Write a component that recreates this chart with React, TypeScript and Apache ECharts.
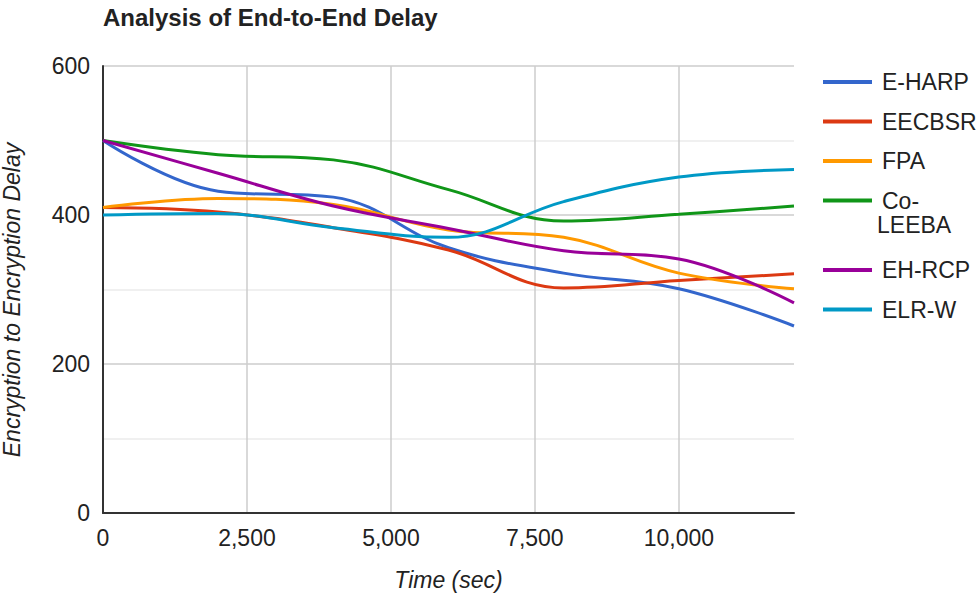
import React, { useEffect, useRef } from "react";
import * as echarts from "echarts";

const xValues = [0, 2000, 4000, 6000, 8000, 10000, 12000];
const seriesNames = ["E-HARP", "EECBSR", "FPA", "Co-LEEBA", "EH-RCP", "ELR-W"];
const eHarp = [500, 432, 424, 356, 322, 301, 251];
const eecbsr = [410, 404, 383, 353, 302, 312, 321];
const fpa = [410, 422, 414, 380, 370, 322, 301];
const coLeeba = [500, 481, 474, 434, 392, 401, 412];
const ehRcp = [500, 456, 412, 382, 352, 341, 282];
const elrW = [400, 402, 383, 370, 418, 451, 461];
const colors = ["#3366cc", "#dc3912", "#ff9900", "#109618", "#990099", "#0099c6"];
const yTicks = [0, 200, 400, 600];
const xTickStep = 2500;

const FONT = '"Liberation Sans", Arial, sans-serif';

export default function App() {
  const ref = useRef<HTMLDivElement>(null);
  useEffect(() => {
    document.body.style.margin = "0";
    if (!ref.current) return;
    const chart = echarts.init(ref.current, undefined, { renderer: "svg" });
    const allValues = [eHarp, eecbsr, fpa, coLeeba, ehRcp, elrW];
    const series = seriesNames.map((name, i) => ({
      name,
      type: "line",
      smooth: 0.4,
      showSymbol: false,
      symbol: "none",
      data: xValues.map((x, j) => [x, allValues[i][j]]),
      lineStyle: { width: 3, color: colors[i] },
      itemStyle: { color: colors[i] },
    }));
    const legendText = {
      fontFamily: FONT,
      fontSize: 23,
      color: "#222",
      lineHeight: 23,
      padding: [0, 0, 0, 5],
    };
    chart.setOption({
      animation: false,
      color: colors,
      title: {
        text: "Analysis of End-to-End Delay",
        left: 98,
        top: 0,
        textStyle: { fontFamily: FONT, fontSize: 24, fontWeight: "bold", color: "#222" },
      },
      grid: { left: 103, right: 186, top: 66, bottom: 87, containLabel: false },
      legend: [
        {
          data: seriesNames.slice(0, 4),
          orient: "vertical",
          left: 818,
          top: 65.5,
          icon: "rect",
          itemWidth: 49,
          itemHeight: 4,
          itemGap: 16.5,
          textStyle: legendText,
          formatter: (n: string) => (n === "Co-LEEBA" ? "Co-" : n),
        },
        {
          data: seriesNames.slice(4),
          orient: "vertical",
          left: 818,
          top: 253.5,
          icon: "rect",
          itemWidth: 49,
          itemHeight: 4,
          itemGap: 16.5,
          textStyle: legendText,
        },
      ],
      graphic: [
        {
          type: "text",
          left: 877,
          top: 213,
          style: { text: "LEEBA", font: `23px ${FONT}`, fill: "#222" },
        },
        {
          type: "text",
          x: 12,
          y: 300,
          rotation: Math.PI / 2,
          style: {
            text: "Encryption to Encryption Delay",
            font: `italic 23px ${FONT}`,
            fill: "#222",
            align: "center",
            verticalAlign: "middle",
          },
        },
      ],
      xAxis: {
        type: "value",
        min: 0,
        max: 12000,
        interval: xTickStep,
        name: "Time (sec)",
        nameLocation: "middle",
        nameGap: 55,
        nameTextStyle: { fontFamily: FONT, fontSize: 23, fontStyle: "italic", color: "#222" },
        axisLine: { show: true, onZero: true, lineStyle: { color: "#333", width: 2 } },
        axisTick: { show: false },
        axisLabel: {
          margin: 13,
          fontFamily: FONT,
          fontSize: 23,
          color: "#222",
          showMaxLabel: false,
          formatter: (v: number) => (v === 12000 ? "" : v.toLocaleString("en-US")),
        },
        splitLine: { show: true, showMaxLine: false, lineStyle: { color: "#cccccc", width: 1.5 } },
      },
      yAxis: {
        type: "value",
        min: yTicks[0],
        max: yTicks[yTicks.length - 1],
        interval: yTicks[1] - yTicks[0],
        axisLine: { show: true, lineStyle: { color: "#333", width: 2 } },
        axisTick: { show: false },
        axisLabel: { margin: 13, fontFamily: FONT, fontSize: 23, color: "#222" },
        splitLine: { show: true, lineStyle: { color: "#cccccc", width: 1.5 } },
        minorTick: { show: false, splitNumber: 2 },
        minorSplitLine: { show: true, lineStyle: { color: "#ebebeb", width: 1.5 } },
      },
      series,
    });
    return () => chart.dispose();
  }, []);
  return <div ref={ref} style={{ width: 980, height: 600 }} />;
}
